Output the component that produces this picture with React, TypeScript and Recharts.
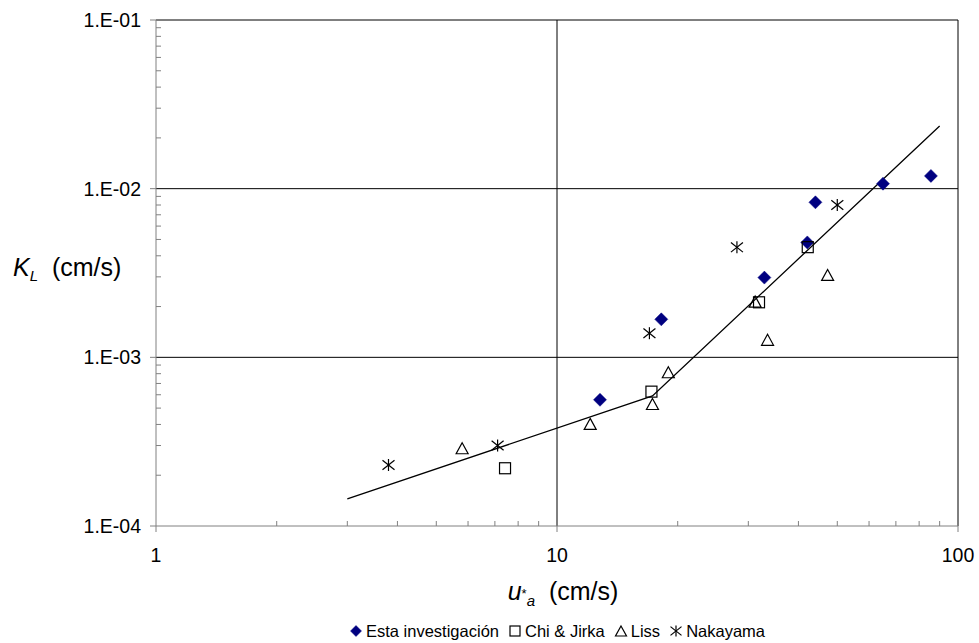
import React from 'react';
import { ScatterChart, Scatter, XAxis, YAxis, ReferenceLine, Legend, Label } from 'recharts';

// ---- data ----
const seriesNames = ['Esta investigación', 'Chi & Jirka', 'Liss', 'Nakayama'];

const estaX = [12.8, 18.2, 32.9, 42.1, 44.1, 65.0, 85.6];
const estaY = [5.6e-4, 1.68e-3, 2.97e-3, 4.8e-3, 8.3e-3, 1.07e-2, 1.19e-2];

const chiX = [7.42, 17.2, 31.9, 42.2];
const chiY = [2.2e-4, 6.26e-4, 2.12e-3, 4.5e-3];

const lissX = [5.8, 12.1, 17.3, 18.95, 31.2, 33.5, 47.3];
const lissY = [2.89e-4, 4.03e-4, 5.29e-4, 8.16e-4, 2.14e-3, 1.27e-3, 3.08e-3];

const nakX = [3.8, 7.11, 17.0, 28.1, 50.0];
const nakY = [2.3e-4, 3.0e-4, 1.39e-3, 4.49e-3, 8.0e-3];

const fitX = [3, 17.3, 90];
const fitY = [1.45e-4, 5.9e-4, 2.35e-2];

const xTicks = [1, 2, 3, 4, 5, 6, 7, 8, 9, 10, 20, 30, 40, 50, 60, 70, 80, 90, 100];
const xMajor = [1, 10, 100];
const xMajorLabels = ['1', '10', '100'];

const yTicks = [
  1e-4, 2e-4, 3e-4, 4e-4, 5e-4, 6e-4, 7e-4, 8e-4, 9e-4,
  1e-3, 2e-3, 3e-3, 4e-3, 5e-3, 6e-3, 7e-3, 8e-3, 9e-3,
  1e-2, 2e-2, 3e-2, 4e-2, 5e-2, 6e-2, 7e-2, 8e-2, 9e-2,
  1e-1,
];
const yMajor = [1e-4, 1e-3, 1e-2, 1e-1];
const yMajorLabels = ['1.E-04', '1.E-03', '1.E-02', '1.E-01'];

const xGrid = [10, 100];
const yGrid = [1e-3, 1e-2, 1e-1];

// ---- helpers ----
const zip = (xs: number[], ys: number[]) => xs.map((x, i) => ({ x, y: ys[i] }));
const estaData = zip(estaX, estaY);
const chiData = zip(chiX, chiY);
const lissData = zip(lissX, lissY);
const nakData = zip(nakX, nakY);
const fitData = zip(fitX, fitY);

const FONT = '"Liberation Sans", Arial, Helvetica, sans-serif';
const NAVY = '#000080';
const AXIS = '#808080';
const TICK_FS = 19.5;
const TITLE_FS = 25;
const X_TS = 6;
const X_TM = 16;
const Y_TS = 6;
const Y_TM = 9;

const findIdx = (arr: number[], v: number) => arr.findIndex((m) => Math.abs(m - v) / m < 1e-6);

const Diamond = ({ cx, cy, r = 6.5 }: any) => (
  <polygon points={`${cx},${cy - r} ${cx + r},${cy} ${cx},${cy + r} ${cx - r},${cy}`} fill={NAVY} stroke={NAVY} strokeWidth={0.5} />
);
const Square = ({ cx, cy, s = 11 }: any) => (
  <rect x={cx - s / 2} y={cy - s / 2} width={s} height={s} fill="none" stroke="#000" strokeWidth={1.2} />
);
const Triangle = ({ cx, cy, w = 12, h = 11 }: any) => (
  <polygon points={`${cx},${cy - h / 2} ${cx + w / 2},${cy + h / 2} ${cx - w / 2},${cy + h / 2}`} fill="none" stroke="#000" strokeWidth={1.2} />
);
const Asterisk = ({ cx, cy, r = 6 }: any) => (
  <g stroke="#000" strokeWidth={1.2}>
    <line x1={cx} y1={cy - r} x2={cx} y2={cy + r} />
    <line x1={cx - r} y1={cy - r * 0.8} x2={cx + r} y2={cy + r * 0.8} />
    <line x1={cx - r} y1={cy + r * 0.8} x2={cx + r} y2={cy - r * 0.8} />
  </g>
);

const XTick = (props: any) => {
  const { x, y, payload } = props;
  const i = findIdx(xMajor, payload.value);
  const axisY = y - X_TS - X_TM;
  return (
    <g>
      {i >= 0 ? (
        <line x1={x} x2={x} y1={axisY} y2={axisY + X_TS} stroke={AXIS} />
      ) : (
        <line x1={x} x2={x} y1={axisY} y2={axisY - 5} stroke={AXIS} />
      )}
      {i >= 0 && (
        <text x={x} y={y} dy="0.71em" textAnchor="middle" fontSize={TICK_FS} fontFamily={FONT} fill="#000">
          {xMajorLabels[i]}
        </text>
      )}
    </g>
  );
};

const YTick = (props: any) => {
  const { x, y, payload } = props;
  const i = findIdx(yMajor, payload.value);
  const axisX = x + Y_TS + Y_TM;
  return (
    <g>
      {i >= 0 ? (
        <line x1={axisX - Y_TS} x2={axisX} y1={y} y2={y} stroke={AXIS} />
      ) : (
        <line x1={axisX} x2={axisX + 5} y1={y} y2={y} stroke={AXIS} />
      )}
      {i >= 0 && (
        <text x={x} y={y} dy="0.36em" textAnchor="end" fontSize={TICK_FS} fontFamily={FONT} fill="#000">
          {yMajorLabels[i]}
        </text>
      )}
    </g>
  );
};

const XTitle = (props: any) => {
  const vb = props.viewBox || {};
  const cx = vb.x + vb.width / 2 + 6;
  const by = vb.y + 74;
  return (
    <text x={cx} y={by} textAnchor="middle" fontFamily={FONT} fontSize={TITLE_FS} fill="#000">
      <tspan fontStyle="italic">u</tspan>
      <tspan fontSize={13} dy={-2}>*</tspan>
      <tspan fontSize={15} fontStyle="italic" dy={8}>a</tspan>
      <tspan dy={-6}>{'\u00a0\u00a0(cm/s)'}</tspan>
    </text>
  );
};

const YTitle = (props: any) => {
  const vb = props.viewBox || {};
  const x = vb.x + 13;
  const by = 276;
  return (
    <text x={x} y={by} textAnchor="start" fontFamily={FONT} fontSize={TITLE_FS} fill="#000">
      <tspan fontStyle="italic">K</tspan>
      <tspan fontStyle="italic" fontSize={15} dy={5}>L</tspan>
      <tspan dy={-5}>{'\u00a0\u00a0(cm/s)'}</tspan>
    </text>
  );
};

const legendIcon = (i: number) => {
  if (i === 0) return <Diamond cx={7} cy={8} r={5.5} />;
  if (i === 1) return <Square cx={7} cy={8} s={10} />;
  if (i === 2) return <Triangle cx={7} cy={8} w={11} h={10} />;
  return <Asterisk cx={7} cy={8} r={5.5} />;
};

const renderLegend = () => (
  <div
    style={{
      display: 'flex',
      justifyContent: 'center',
      alignItems: 'center',
      height: 24,
      fontFamily: FONT,
      fontSize: 16.5,
      color: '#000',
      whiteSpace: 'nowrap',
    }}
  >
    {seriesNames.map((name, i) => (
      <span key={name} style={{ display: 'inline-flex', alignItems: 'center', marginRight: i < seriesNames.length - 1 ? 9 : 0 }}>
        <svg width={14} height={16} style={{ marginRight: 3 }}>{legendIcon(i)}</svg>
        <span>{name}</span>
      </span>
    ))}
  </div>
);

export default function App() {
  return (
    <div style={{ position: 'fixed', left: 0, top: 0, width: 979, height: 643, background: '#fff' }}>
      <ScatterChart width={979} height={643} margin={{ top: 20, right: 21, bottom: 0, left: 0 }}>
        <XAxis
          type="number"
          dataKey="x"
          scale="log"
          domain={[1, 100]}
          ticks={xTicks}
          interval={0}
          allowDataOverflow
          height={93}
          tickSize={X_TS}
          tickMargin={X_TM}
          tickLine={false}
          axisLine={{ stroke: AXIS }}
          tick={<XTick />}
        >
          <Label content={<XTitle />} />
        </XAxis>
        <YAxis
          type="number"
          dataKey="y"
          scale="log"
          domain={[1e-4, 1e-1]}
          ticks={yTicks}
          interval={0}
          allowDataOverflow
          width={156}
          tickSize={Y_TS}
          tickMargin={Y_TM}
          tickLine={false}
          axisLine={{ stroke: AXIS }}
          tick={<YTick />}
        >
          <Label content={<YTitle />} />
        </YAxis>
        {yGrid.map((v) => (
          <ReferenceLine key={'h' + v} y={v} stroke="#000" strokeWidth={1} />
        ))}
        {xGrid.map((v) => (
          <ReferenceLine key={'v' + v} x={v} stroke="#000" strokeWidth={1} />
        ))}
        <Legend verticalAlign="bottom" height={24} wrapperStyle={{ left: 156, width: 802 }} content={renderLegend} />
        <Scatter
          name="fit"
          data={fitData}
          line={{ stroke: '#000', strokeWidth: 1.3 }}
          shape={() => <g />}
          legendType="none"
          isAnimationActive={false}
        />
        <Scatter name={seriesNames[0]} data={estaData} shape={(p: any) => <Diamond cx={p.cx} cy={p.cy} />} isAnimationActive={false} />
        <Scatter name={seriesNames[1]} data={chiData} shape={(p: any) => <Square cx={p.cx} cy={p.cy} />} isAnimationActive={false} />
        <Scatter name={seriesNames[2]} data={lissData} shape={(p: any) => <Triangle cx={p.cx} cy={p.cy} />} isAnimationActive={false} />
        <Scatter name={seriesNames[3]} data={nakData} shape={(p: any) => <Asterisk cx={p.cx} cy={p.cy} />} isAnimationActive={false} />
      </ScatterChart>
    </div>
  );
}
